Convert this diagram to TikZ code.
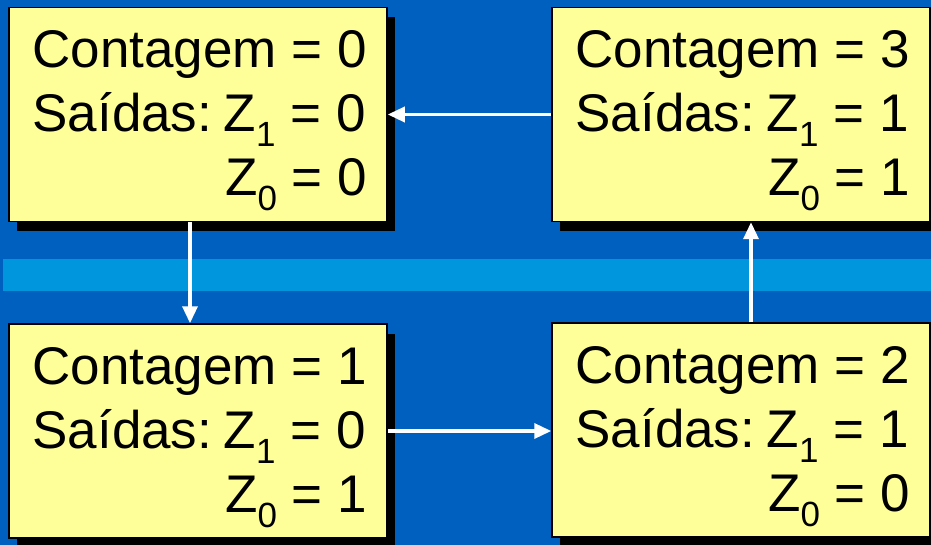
\documentclass[tikz,border=0pt]{standalone}
\usepackage{fontspec}
\setmainfont{Liberation Sans}
\usetikzlibrary{arrows.meta,shadows,calc}
\definecolor{bgblue}{RGB}{0,96,192}
\definecolor{stripeblue}{RGB}{0,150,222}
\definecolor{boxyellow}{RGB}{255,255,153}
\newcommand{\subd}[1]{\raisebox{-15pt}{\fontsize{35}{35}\selectfont #1}}
\newcommand{\statetext}[4]{\fontsize{53}{64}\selectfont\begin{tabular}[t]{@{}l@{}}Contagem = #1\\ Saídas:\hspace{0.22em}Z\subd{1} = #2\\ \hfill Z\subd{0} = #3#4\end{tabular}}
\begin{document}
\begin{tikzpicture}[x=1pt,y=-1pt,
  statebox/.style={draw=black, line width=1.5pt, fill=boxyellow, minimum width=378pt, minimum height=214pt, inner sep=0pt,
    general shadow={fill=black, shadow xshift=8pt, shadow yshift=-10pt}},
  txt/.style={anchor=base west, inner sep=0pt, text=black},
  arr/.style={draw=white, line width=3.5pt, -{Triangle[width=15pt,length=17pt]}}]
\useasboundingbox (0,0) rectangle (931,545);
\fill[bgblue] (0,0) rectangle (931,545);
\fill[stripeblue] (3,259) rectangle (931,291);
\node[statebox] (A) at (198,114.5) {};
\node[statebox] (B) at (741,114.5) {};
\node[statebox] (C) at (198,431) {};
\node[statebox] (D) at (741,430) {};
\node[txt] (tA) at ($(A.north west)+(24,61)$) {\statetext{0}{0}{0}{}};
\node[txt] (tB) at ($(B.north west)+(24,61)$) {\statetext{3}{1}{1}{}};
\node[txt] (tC) at ($(C.north west)+(24,61)$) {\statetext{1}{0}{1}{}};
\node[txt] (tD) at ($(D.north west)+(24,61)$) {\statetext{2}{1}{0}{}};
\coordinate (xa) at (190,0);
\coordinate (xb) at (751,0);
\draw[arr] (A.south -| xa) -- (C.north -| xa);
\draw[arr] (C.east) -- (C.east -| D.west);
\draw[arr] (D.north -| xb) -- (B.south -| xb);
\draw[arr] (B.west) -- (A.east);
\end{tikzpicture}
\end{document}
